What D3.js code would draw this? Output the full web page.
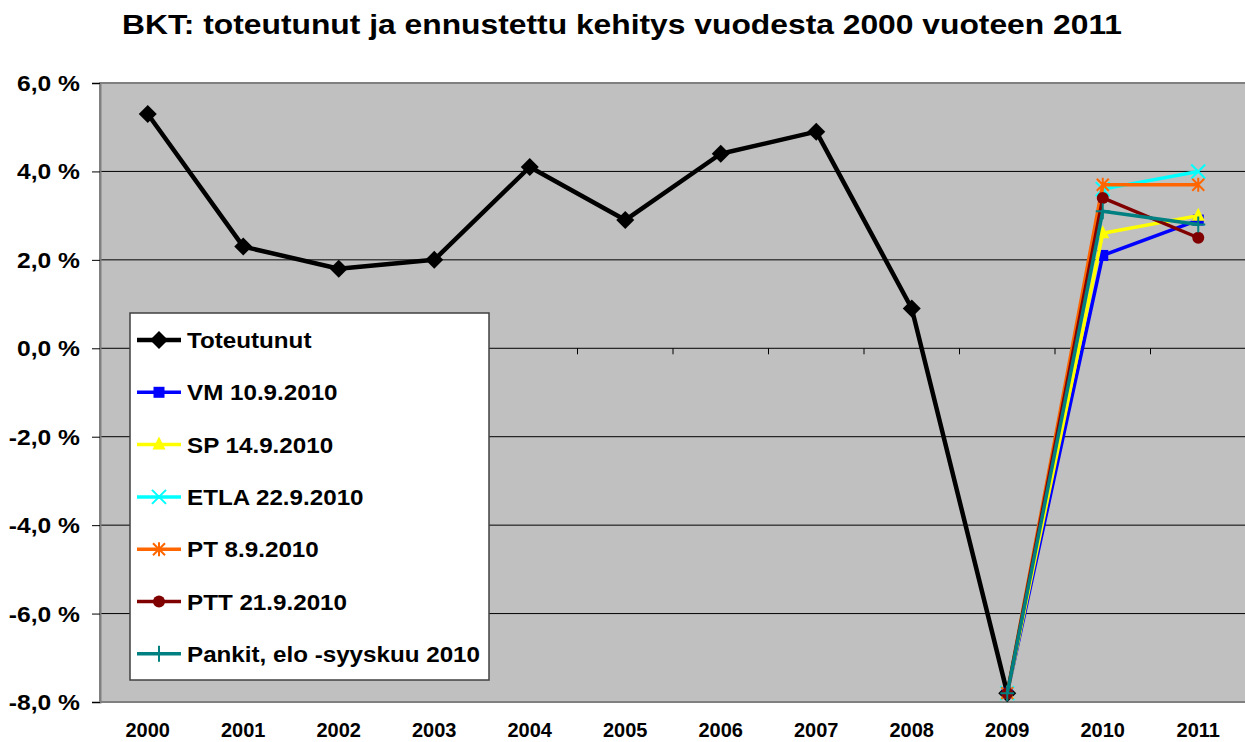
<!DOCTYPE html>
<html>
<head>
<meta charset="utf-8">
<script src="https://cdn.jsdelivr.net/npm/d3@7"></script>
<style>
  body { margin: 0; background: #fff; }
  svg text { font-family: "Liberation Sans", Arial, sans-serif; font-weight: bold; }
</style>
</head>
<body>
<svg id="chart" width="1245" height="742"></svg>
<script>
const years = ["2000","2001","2002","2003","2004","2005","2006","2007","2008","2009","2010","2011"];
const yTicks = [-8, -6, -4, -2, 0, 2, 4, 6];

// toteutunut 2000-2009
const actual = [5.3, 2.3, 1.8, 2.0, 4.1, 2.9, 4.4, 4.9, 0.9, -7.8];
// ennusteet 2009-2011
const forecastYears = ["2009", "2010", "2011"];
const vm = [-7.8, 2.1, 2.9];
const sp = [-7.8, 2.6, 3.0];
const etla = [-7.8, 3.6, 4.0];
const pt = [-7.8, 3.7, 3.7];
const ptt = [-7.8, 3.4, 2.5];
const pankit = [-7.8, 3.1, 2.8];

const seriesNames = ["Toteutunut", "VM 10.9.2010", "SP 14.9.2010", "ETLA 22.9.2010", "PT 8.9.2010", "PTT 21.9.2010", "Pankit, elo -syyskuu 2010"];

const svg = d3.select("svg#chart");
const plot = { left: 100, top: 83, right: 1246, bottom: 702 };

const xScale = d3.scaleBand().domain(years).range([plot.left, plot.right]);
const xc = d => xScale(d) + xScale.bandwidth() / 2;
const yScale = d3.scaleLinear().domain([-8, 6]).range([plot.bottom, plot.top]);

// title (source font is a bit wider than Liberation, so stretch slightly)
svg.append("text")
    .attr("transform", "translate(622,34) scale(1.136,1)")
    .attr("text-anchor", "middle")
    .attr("font-size", 28)
    .text("BKT: toteutunut ja ennustettu kehitys vuodesta 2000 vuoteen 2011");

// plot background
svg.append("rect")
    .attr("x", plot.left).attr("y", plot.top)
    .attr("width", plot.right - plot.left).attr("height", plot.bottom - plot.top)
    .attr("fill", "#C0C0C0").attr("stroke", "#808080").attr("stroke-width", 2);

// gridlines
svg.append("g").attr("class", "gridlines")
    .selectAll("line").data(yTicks.filter(d => d > -8 && d < 6))
    .join("line")
    .attr("x1", plot.left).attr("x2", plot.right)
    .attr("y1", d => yScale(d)).attr("y2", d => yScale(d))
    .attr("stroke", "#000").attr("stroke-width", 1);

// y axis
const leftAxis = d3.axisLeft(yScale).tickValues(yTicks).tickSize(8).tickFormat("");
const yAxisG = svg.append("g").attr("class", "y axis")
    .attr("transform", `translate(${plot.left},0)`)
    .call(leftAxis);
yAxisG.select(".domain").attr("stroke", "#808080").attr("stroke-width", 2);
yAxisG.selectAll(".tick line").attr("stroke", "#000");

const fmt = d => d3.format(".1f")(d).replace(".", ",").replace("\u2212", "-") + " %";
svg.append("g").attr("class", "y labels")
    .selectAll("text").data(yTicks).join("text")
    .attr("transform", d => `translate(80,${yScale(d) + 8}) scale(1.12,1)`)
    .attr("text-anchor", "end")
    .attr("font-size", 22)
    .text(fmt);

// category axis crossing at 0
const bounds = years.slice(1).map(d => xScale(d));
svg.append("g").attr("class", "x ticks")
    .selectAll("line").data(bounds).join("line")
    .attr("x1", d => d).attr("x2", d => d)
    .attr("y1", yScale(0)).attr("y2", yScale(0) + 6)
    .attr("stroke", "#000").attr("stroke-width", 1);

// x labels
svg.append("g").attr("class", "x labels")
    .selectAll("text").data(years).join("text")
    .attr("x", d => xc(d)).attr("y", 737)
    .attr("text-anchor", "middle")
    .attr("font-size", 20)
    .text(d => d);

const forecasts = [
    { name: seriesNames[1], values: vm, color: "#0000FF", symbol: "square" },
    { name: seriesNames[2], values: sp, color: "#FFFF00", symbol: "triangle" },
    { name: seriesNames[3], values: etla, color: "#00FFFF", symbol: "x" },
    { name: seriesNames[4], values: pt, color: "#FF6600", symbol: "star" },
    { name: seriesNames[5], values: ptt, color: "#800000", symbol: "circle" },
    { name: seriesNames[6], values: pankit, color: "#008080", symbol: "plus" }
];
const actualSeries = { name: seriesNames[0], color: "#000", symbol: "diamond" };

function drawMarker(g, symbol, color, x, y) {
    if (symbol === "diamond") {
        g.append("path").attr("d", `M${x},${y - 9}L${x + 9},${y}L${x},${y + 9}L${x - 9},${y}Z`).attr("fill", color);
    } else if (symbol === "square") {
        g.append("rect").attr("x", x - 5.5).attr("y", y - 5.5).attr("width", 11).attr("height", 11).attr("fill", color);
    } else if (symbol === "triangle") {
        g.append("path").attr("d", `M${x},${y - 8}L${x + 6.5},${y + 5}L${x - 6.5},${y + 5}Z`).attr("fill", color);
    } else if (symbol === "circle") {
        g.append("circle").attr("cx", x).attr("cy", y).attr("r", 6).attr("fill", color);
    } else if (symbol === "x") {
        g.append("path").attr("d", `M${x - 7},${y - 7}L${x + 7},${y + 7}M${x - 7},${y + 7}L${x + 7},${y - 7}`)
            .attr("stroke", color).attr("stroke-width", 2);
    } else if (symbol === "star") {
        g.append("path").attr("d", `M${x - 6},${y - 6}L${x + 6},${y + 6}M${x - 6},${y + 6}L${x + 6},${y - 6}M${x},${y - 7}L${x},${y + 7}`)
            .attr("stroke", color).attr("stroke-width", 2);
    } else if (symbol === "plus") {
        g.append("path").attr("d", `M${x - 7},${y}L${x + 7},${y}M${x},${y - 8}L${x},${y + 8}`)
            .attr("stroke", color).attr("stroke-width", 2);
    }
}

const line = d3.line().x(d => xc(d.year)).y(d => yScale(d.value));

// actual
const actualData = actual.map((v, i) => ({ year: years[i], value: v }));
const seriesG = svg.append("g").attr("class", "series");
seriesG.append("path").datum(actualData)
    .attr("d", line).attr("fill", "none")
    .attr("stroke", actualSeries.color).attr("stroke-width", 4.5).attr("stroke-linejoin", "round");
actualData.forEach(d => drawMarker(seriesG, actualSeries.symbol, actualSeries.color, xc(d.year), yScale(d.value)));

// forecasts
forecasts.forEach(s => {
    const data = s.values.map((v, i) => ({ year: forecastYears[i], value: v }));
    const g = seriesG.append("g");
    g.append("path").datum(data)
        .attr("d", line).attr("fill", "none")
        .attr("stroke", s.color).attr("stroke-width", 3.5).attr("stroke-linejoin", "round");
    data.forEach(d => drawMarker(g, s.symbol, s.color, xc(d.year), yScale(d.value)));
});

// legend
const legend = svg.append("g").attr("class", "legend");
legend.append("rect")
    .attr("x", 130).attr("y", 313).attr("width", 359).attr("height", 367)
    .attr("fill", "#fff").attr("stroke", "#404040").attr("stroke-width", 1.5);
const legendItems = [actualSeries].concat(forecasts);
legendItems.forEach((s, i) => {
    const y = 340 + i * 52.3;
    const g = legend.append("g");
    g.append("line").attr("x1", 137).attr("x2", 181).attr("y1", y).attr("y2", y)
        .attr("stroke", s.color).attr("stroke-width", i === 0 ? 4.5 : 3.5);
    drawMarker(g, s.symbol, s.color, 159, y);
    g.append("text").attr("transform", `translate(187,${y + 8}) scale(1.1,1)`)
        .attr("font-size", 22).text(s.name);
});
</script>
</body>
</html>
